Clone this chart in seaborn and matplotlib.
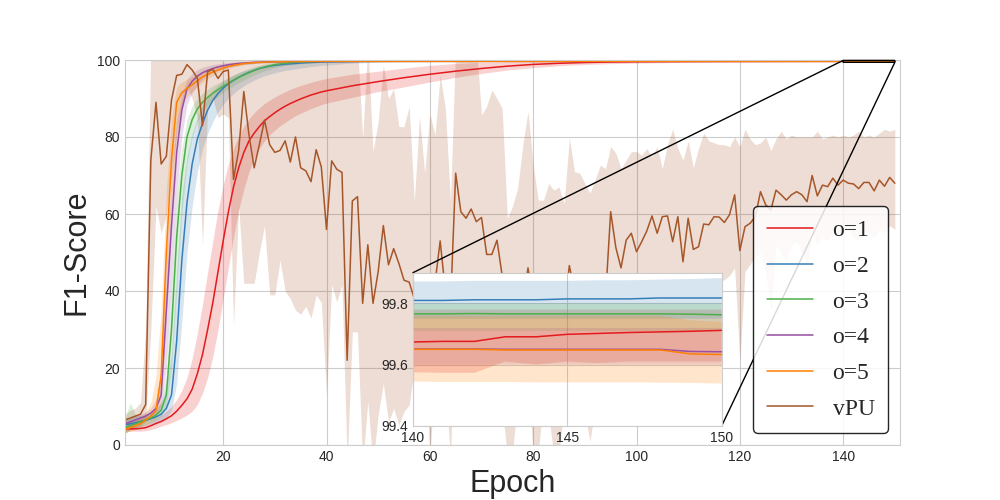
import matplotlib
matplotlib.use("Agg")
import matplotlib.pyplot as plt
import seaborn as sns

epochs = list(range(1, 41)) + list(range(45, 140, 5)) + list(range(140, 151))
vpu_epochs = list(range(1, 151))

o1_mean = [4.2, 4.2, 4.2, 4.3, 4.5, 5.0, 5.6, 6.1, 6.8, 7.6, 8.8, 10.3, 12.0, 14.5, 18.5, 23.5, 30.0, 37.0, 45.0, 53.0,
           60.5, 67.0, 72.0, 76.0, 79.0, 81.0, 82.7, 84.2, 85.3, 86.3, 87.2, 88.0, 88.7, 89.3, 89.9, 90.4, 90.9, 91.3, 91.7, 92.0,
           93.3, 94.4, 95.4, 96.3, 97.1, 97.8, 98.4, 98.85, 99.15, 99.35, 99.47, 99.54, 99.58, 99.61, 99.63, 99.64, 99.65, 99.66, 99.67,
           99.674, 99.676, 99.676, 99.691, 99.691, 99.699, 99.702, 99.705, 99.707, 99.709, 99.712]
o1_low = [3.6, 3.6, 3.6, 3.6, 3.7, 4.0, 4.4, 4.9, 5.3, 5.8, 6.4, 7.0, 7.8, 8.8, 10.5, 13.5, 17.5, 23.0, 30.0, 38.0,
          46.0, 54.0, 61.0, 66.5, 71.0, 74.5, 77.0, 79.0, 80.6, 81.8, 82.9, 83.8, 84.7, 85.5, 86.2, 86.8, 87.4, 87.9, 88.4, 88.8,
          90.3, 91.8, 93.0, 94.3, 95.5, 96.5, 97.4, 98.0, 98.5, 98.85, 99.05, 99.2, 99.3, 99.4, 99.45, 99.5, 99.53, 99.55, 99.56,
          99.575, 99.573, 99.573, 99.61, 99.60, 99.61, 99.605, 99.61, 99.61, 99.61, 99.61]
o1_high = [4.8, 4.8, 4.9, 5.1, 5.5, 6.2, 7.0, 7.8, 8.8, 10.0, 11.8, 14.2, 17.5, 22.5, 29.0, 36.5, 45.0, 53.0, 61.0, 67.5,
           73.0, 77.0, 80.3, 82.8, 84.7, 86.3, 87.6, 88.7, 89.6, 90.4, 91.1, 91.8, 92.4, 92.9, 93.4, 93.8, 94.2, 94.6, 94.9, 95.2,
           96.3, 97.1, 97.9, 98.6, 99.1, 99.4, 99.55, 99.65, 99.7, 99.73, 99.75, 99.76, 99.77, 99.77, 99.77, 99.77, 99.78, 99.78, 99.78,
           99.78, 99.78, 99.78, 99.78, 99.78, 99.78, 99.78, 99.78, 99.78, 99.78, 99.78]

o2_mean = [5.2, 5.5, 5.8, 6.1, 6.4, 6.8, 7.3, 8.0, 9.5, 13.0, 27.0, 48.0, 63.0, 73.0, 79.5, 83.5, 87.0, 89.5, 91.3, 92.7,
           93.8, 94.7, 95.5, 96.2, 96.8, 97.3, 97.8, 98.1, 98.4, 98.6, 98.75, 98.9, 99.0, 99.1, 99.2, 99.3, 99.35, 99.4, 99.45, 99.5,
           99.6, 99.67, 99.72, 99.75, 99.77, 99.78, 99.79, 99.795, 99.8, 99.8, 99.8, 99.8, 99.805, 99.805, 99.805, 99.805, 99.81, 99.81, 99.81,
           99.810, 99.810, 99.812, 99.812, 99.812, 99.815, 99.815, 99.815, 99.818, 99.818, 99.818]
o2_low = [3.8, 4.1, 4.4, 4.7, 5.0, 5.4, 5.8, 6.3, 7.2, 9.0, 16.0, 32.0, 50.0, 62.0, 71.0, 77.0, 81.0, 84.0, 86.5, 88.5,
          90.0, 91.3, 92.4, 93.3, 94.1, 94.8, 95.4, 95.9, 96.3, 96.7, 97.0, 97.3, 97.5, 97.7, 97.9, 98.1, 98.3, 98.45, 98.6, 98.7,
          99.2, 99.4, 99.55, 99.62, 99.67, 99.7, 99.72, 99.73, 99.74, 99.745, 99.75, 99.75, 99.75, 99.75, 99.75, 99.75, 99.75, 99.75, 99.75,
          99.75, 99.75, 99.75, 99.75, 99.75, 99.75, 99.75, 99.75, 99.75, 99.75, 99.75]
o2_high = [6.8, 7.1, 7.4, 7.7, 8.0, 8.5, 9.3, 11.0, 15.0, 24.0, 45.0, 65.0, 75.0, 81.0, 85.0, 88.0, 90.3, 92.0, 93.4, 94.5,
           95.4, 96.1, 96.7, 97.2, 97.6, 98.0, 98.4, 98.7, 98.95, 99.15, 99.3, 99.4, 99.5, 99.55, 99.6, 99.65, 99.7, 99.72, 99.74, 99.76,
           99.8, 99.83, 99.85, 99.86, 99.865, 99.87, 99.87, 99.87, 99.87, 99.87, 99.87, 99.87, 99.87, 99.87, 99.87, 99.87, 99.87, 99.87, 99.87,
           99.872, 99.872, 99.874, 99.874, 99.874, 99.874, 99.876, 99.876, 99.878, 99.880, 99.883]

o3_mean = [4.5, 5.0, 5.5, 6.0, 6.5, 7.0, 7.8, 9.0, 13.0, 30.0, 54.0, 70.0, 80.0, 84.5, 87.3, 89.0, 90.3, 91.4, 92.3, 93.2,
           94.0, 94.8, 95.5, 96.1, 96.7, 97.3, 97.8, 98.2, 98.5, 98.8, 99.0, 99.15, 99.3, 99.4, 99.48, 99.55, 99.6, 99.63, 99.66, 99.68,
           99.71, 99.73, 99.74, 99.75, 99.755, 99.76, 99.76, 99.765, 99.765, 99.765, 99.765, 99.765, 99.765, 99.765, 99.765, 99.765, 99.765, 99.766, 99.766,
           99.766, 99.766, 99.767, 99.766, 99.766, 99.766, 99.766, 99.766, 99.766, 99.765, 99.763]
o3_low = [3.0, 3.8, 4.4, 5.0, 5.5, 6.0, 6.6, 7.5, 10.0, 20.0, 40.0, 60.0, 73.0, 80.0, 84.0, 86.5, 88.2, 89.5, 90.6, 91.6,
          92.5, 93.3, 94.1, 94.8, 95.5, 96.1, 96.7, 97.2, 97.6, 98.0, 98.3, 98.5, 98.7, 98.85, 99.0, 99.1, 99.2, 99.28, 99.35, 99.4,
          99.55, 99.62, 99.66, 99.68, 99.69, 99.7, 99.7, 99.705, 99.705, 99.705, 99.71, 99.71, 99.71, 99.71, 99.71, 99.71, 99.71, 99.71, 99.71,
          99.71, 99.71, 99.71, 99.71, 99.71, 99.71, 99.71, 99.71, 99.71, 99.71, 99.71]
o3_high = [7.0, 11.0, 8.0, 7.5, 7.8, 8.2, 9.3, 11.0, 18.0, 42.0, 65.0, 77.0, 84.5, 88.0, 90.0, 91.3, 92.4, 93.3, 94.0, 94.7,
           95.4, 96.1, 96.7, 97.3, 97.8, 98.3, 98.7, 99.0, 99.25, 99.45, 99.55, 99.62, 99.68, 99.72, 99.75, 99.77, 99.78, 99.79, 99.79, 99.8,
           99.8, 99.8, 99.8, 99.8, 99.8, 99.8, 99.8, 99.8, 99.8, 99.8, 99.8, 99.8, 99.8, 99.8, 99.8, 99.8, 99.8, 99.8, 99.8,
           99.8, 99.8, 99.8, 99.8, 99.8, 99.8, 99.8, 99.8, 99.8, 99.8, 99.8]

o4_mean = [5.5, 6.0, 6.5, 7.0, 7.5, 8.3, 9.5, 13.0, 35.0, 57.0, 76.0, 87.0, 92.5, 94.5, 95.8, 96.7, 97.3, 97.8, 98.2, 98.5,
           98.75, 98.95, 99.1, 99.2, 99.3, 99.38, 99.44, 99.48, 99.52, 99.55, 99.57, 99.59, 99.6, 99.61, 99.62, 99.62, 99.63, 99.63, 99.64, 99.64,
           99.645, 99.65, 99.65, 99.65, 99.65, 99.65, 99.65, 99.65, 99.65, 99.65, 99.65, 99.65, 99.65, 99.65, 99.65, 99.65, 99.65, 99.651, 99.651,
           99.651, 99.651, 99.651, 99.650, 99.650, 99.650, 99.650, 99.650, 99.650, 99.643, 99.642]
o4_low = [4.5, 5.0, 5.5, 6.0, 6.4, 7.0, 7.8, 9.5, 20.0, 42.0, 65.0, 80.0, 88.5, 91.5, 93.5, 95.0, 96.0, 96.7, 97.3, 97.7,
          98.1, 98.4, 98.6, 98.8, 98.95, 99.07, 99.16, 99.24, 99.3, 99.36, 99.4, 99.44, 99.47, 99.5, 99.52, 99.54, 99.55, 99.56, 99.57, 99.58,
          99.6, 99.6, 99.6, 99.6, 99.6, 99.6, 99.6, 99.6, 99.6, 99.6, 99.6, 99.6, 99.6, 99.6, 99.6, 99.6, 99.6, 99.6, 99.6,
          99.6, 99.6, 99.6, 99.6, 99.6, 99.6, 99.6, 99.6, 99.6, 99.6, 99.6]
o4_high = [6.5, 7.0, 7.5, 8.0, 8.6, 9.6, 12.0, 20.0, 50.0, 70.0, 84.0, 91.0, 95.0, 96.5, 97.5, 98.1, 98.5, 98.8, 99.0, 99.2,
           99.35, 99.45, 99.52, 99.58, 99.62, 99.65, 99.67, 99.69, 99.7, 99.71, 99.71, 99.72, 99.72, 99.72, 99.72, 99.72, 99.72, 99.72, 99.72, 99.72,
           99.72, 99.72, 99.72, 99.72, 99.72, 99.72, 99.72, 99.72, 99.72, 99.72, 99.72, 99.72, 99.72, 99.72, 99.72, 99.72, 99.72, 99.72, 99.72,
           99.72, 99.72, 99.72, 99.72, 99.72, 99.72, 99.72, 99.72, 99.72, 99.72, 99.72]

o5_mean = [4.0, 4.5, 5.0, 5.5, 6.5, 7.5, 9.0, 18.0, 50.0, 74.0, 89.0, 91.5, 92.6, 93.6, 94.6, 95.6, 96.3, 96.9, 97.4, 97.9,
           98.3, 98.6, 98.85, 99.05, 99.2, 99.3, 99.38, 99.45, 99.5, 99.53, 99.56, 99.58, 99.6, 99.61, 99.62, 99.63, 99.64, 99.64, 99.645, 99.645,
           99.65, 99.65, 99.65, 99.65, 99.65, 99.65, 99.65, 99.65, 99.65, 99.65, 99.65, 99.65, 99.65, 99.65, 99.65, 99.65, 99.65, 99.65, 99.65,
           99.650, 99.650, 99.650, 99.648, 99.648, 99.648, 99.648, 99.648, 99.648, 99.635, 99.633]
o5_low = [3.2, 3.6, 4.0, 4.5, 5.3, 6.0, 7.0, 11.0, 32.0, 60.0, 82.0, 88.5, 90.5, 91.8, 93.0, 94.2, 95.2, 96.0, 96.7, 97.3,
          97.8, 98.2, 98.5, 98.75, 98.95, 99.1, 99.2, 99.28, 99.34, 99.38, 99.42, 99.45, 99.48, 99.5, 99.51, 99.52, 99.53, 99.535, 99.54, 99.54,
          99.54, 99.54, 99.54, 99.54, 99.54, 99.54, 99.54, 99.54, 99.54, 99.54, 99.54, 99.54, 99.54, 99.54, 99.54, 99.54, 99.54, 99.54, 99.54,
          99.545, 99.543, 99.543, 99.543, 99.542, 99.542, 99.542, 99.542, 99.541, 99.540, 99.538]
o5_high = [5.0, 5.5, 6.2, 7.0, 8.5, 11.0, 18.0, 35.0, 66.0, 85.0, 93.0, 94.3, 95.0, 95.6, 96.3, 97.0, 97.6, 98.1, 98.5, 98.9,
           99.15, 99.35, 99.5, 99.6, 99.66, 99.7, 99.72, 99.74, 99.75, 99.76, 99.76, 99.76, 99.76, 99.76, 99.76, 99.76, 99.76, 99.76, 99.76, 99.76,
           99.76, 99.76, 99.76, 99.76, 99.76, 99.76, 99.76, 99.76, 99.76, 99.76, 99.76, 99.76, 99.76, 99.76, 99.76, 99.76, 99.76, 99.76, 99.76,
           99.76, 99.76, 99.76, 99.76, 99.76, 99.76, 99.76, 99.76, 99.76, 99.745, 99.74]

vpu_mean = [6.5, 7.0, 7.5, 8.0, 10.5, 74.0, 89.0, 73.0, 75.0, 89.6,
            96.0, 96.3, 98.8, 97.4, 95.3, 83.0, 97.0, 97.6, 95.2, 97.0,
            97.4, 69.0, 76.5, 91.8, 80.5, 72.0, 78.0, 84.4, 78.0, 76.0,
            76.5, 79.0, 73.5, 80.0, 72.0, 71.2, 68.4, 76.7, 72.2, 56.0,
            73.8, 71.6, 70.8, 22.0, 63.4, 64.5, 36.8, 52.0, 36.8, 45.0,
            57.0, 46.8, 51.0, 47.2, 42.8, 42.3, 38.0, 35.0, 40.0, 32.0,
            42.0, 53.0, 40.0, 36.0, 70.6, 60.6, 58.9, 61.3, 58.0, 59.1,
            49.5, 49.5, 53.2, 44.0, 38.0, 35.0, 30.0, 37.0, 46.0, 38.0,
            34.0, 40.0, 36.0, 33.0, 38.0, 35.0, 46.6, 40.0, 36.0, 33.0,
            38.0, 35.0, 40.0, 38.0, 60.6, 51.3, 46.0, 53.2, 55.0, 50.2,
            52.8, 55.6, 59.5, 55.0, 59.3, 59.5, 52.8, 59.3, 47.6, 58.9,
            50.8, 51.5, 57.4, 57.2, 59.3, 59.2, 57.8, 59.8, 65.0, 50.5,
            56.7, 57.6, 59.3, 65.8, 62.4, 61.0, 66.2, 65.0, 63.6, 65.0,
            65.8, 65.0, 63.2, 70.0, 64.7, 67.5, 67.1, 69.3, 67.5, 68.8,
            68.0, 67.8, 66.6, 68.2, 68.2, 66.0, 68.8, 67.2, 69.5, 68.0]
vpu_low = [3.0, 4.0, 4.5, 5.0, 6.0, 30.0, 62.0, 55.0, 60.0, 70.0,
           80.0, 88.0, 93.0, 90.0, 85.0, 52.0, 88.0, 90.0, 85.0, 86.0,
           85.0, 31.0, 62.0, 42.0, 42.0, 42.0, 50.0, 57.0, 39.0, 39.0,
           48.0, 40.0, 38.0, 35.0, 34.0, 36.0, 33.0, 39.0, 37.0, 13.0,
           41.6, 37.2, 41.6, -5.0, 29.4, 29.4, -5.0, 11.3, -5.0, 7.8,
           16.0, 6.0, 9.5, 5.2, 8.7, 10.4, 20.0, 15.0, 25.0, -3.0,
           18.0, 30.0, 15.0, -3.0, 40.0, 35.0, 30.0, 32.0, 28.0, 25.0,
           15.0, 18.0, 20.0, 10.0, -3.0, -2.0, 12.0, 15.0, 20.0, -3.0,
           -2.0, 12.0, 8.0, -3.0, -2.0, 10.0, 20.0, 14.0, 10.0, 8.0,
           1.0, 10.0, 15.0, 12.0, 25.0, 20.0, 15.0, 22.0, 28.0, 18.0,
           24.0, 30.0, 26.0, 20.0, 28.0, 32.0, 22.0, 30.0, 18.0, 28.0,
           25.0, 30.0, 34.0, 36.0, 40.0, 42.0, 43.0, 44.0, 46.0, 22.0,
           45.0, 47.0, 49.0, 50.0, 45.0, 35.0, 52.0, 50.0, 48.0, 52.0,
           53.0, 50.0, 47.0, 55.0, 52.0, 54.0, 53.0, 56.0, 55.0, 55.0,
           56.0, 54.0, 53.0, 56.0, 55.0, 54.0, 56.0, 55.0, 57.0, 56.0]
vpu_high = [8.0, 9.0, 9.5, 11.0, 30.0, 104, 104, 104, 104, 104,
            104, 104, 104, 104, 104, 104, 104, 104, 104, 104,
            104, 104, 104, 104, 104, 104, 104, 104, 104, 104,
            104, 104, 104, 104, 104, 104, 104, 104, 104, 104,
            104, 104, 104, 104, 104, 104, 79.6, 104, 76.2, 84.0,
            98.7, 90.0, 92.5, 82.7, 82.7, 88.0, 63.2, 85.3, 70.6, 86.1,
            80.5, 96.1, 87.4, 63.2, 104, 104, 104, 104, 104, 85.7,
            88.0, 92.2, 90.0, 87.4, 58.9, 62.0, 66.7, 78.0, 86.6, 72.7,
            63.6, 63.6, 67.9, 66.2, 67.0, 62.7, 79.8, 71.0, 70.6, 68.0,
            65.4, 69.0, 72.7, 71.8, 77.5, 75.8, 71.8, 74.0, 76.2, 76.2,
            75.3, 77.0, 74.9, 77.5, 71.8, 78.0, 82.0, 77.0, 74.0, 79.0,
            72.0, 77.0, 81.0, 79.0, 78.5, 78.0, 78.0, 77.5, 80.0, 77.5,
            82.0, 79.5, 78.0, 78.5, 80.0, 76.5, 79.5, 81.5, 79.5, 80.5,
            80.0, 80.0, 80.0, 80.0, 81.5, 79.5, 80.0, 80.5, 80.0, 80.5,
            80.0, 80.5, 81.5, 80.0, 80.5, 80.0, 81.0, 82.0, 81.5, 82.0]

labels = ["o=1", "o=2", "o=3", "o=4", "o=5", "vPU"]
colors = ["#e41a1c", "#377eb8", "#4daf4a", "#984ea3", "#ff7f00", "#a65628"]
series = [
    (epochs, o1_mean, o1_low, o1_high),
    (epochs, o2_mean, o2_low, o2_high),
    (epochs, o3_mean, o3_low, o3_high),
    (epochs, o4_mean, o4_low, o4_high),
    (epochs, o5_mean, o5_low, o5_high),
    (vpu_epochs, vpu_mean, vpu_low, vpu_high),
]


def draw_curves(ax, with_labels):
    for (x, mean, low, high), name, c in zip(series, labels, colors):
        ax.fill_between(x, low, high, color=c, alpha=0.2, lw=0)
        sns.lineplot(x=x, y=mean, color=c, lw=1.1, errorbar=None,
                     label=name if with_labels else None, legend=with_labels, ax=ax)


sns.set_style("whitegrid")
plt.rcParams["font.family"] = ["Liberation Sans", "DejaVu Sans"]
plt.rcParams["font.size"] = 10
plt.rcParams["xtick.major.size"] = 0
plt.rcParams["ytick.major.size"] = 0
plt.rcParams["xtick.major.pad"] = 3.5
plt.rcParams["ytick.major.pad"] = 3.5

fig, ax = plt.subplots(figsize=(10, 5), dpi=100)
draw_curves(ax, True)
ax.set_xlim(1, 151)
ax.set_ylim(0, 100)
ax.set_xlabel("Epoch", fontsize=22)
ax.set_ylabel("F1-Score", fontsize=22)
ax.tick_params(labelsize=10)

leg = ax.legend(loc="lower right", prop={"family": "Liberation Serif", "size": 17},
                frameon=True, framealpha=0.85, edgecolor="black", borderpad=0.57,
                handlelength=1.95, handletextpad=0.85, labelspacing=0.6)
leg.get_frame().set_linewidth(1.0)

# zoomed view of the last ten epochs
axins = ax.inset_axes([0.371, 0.05, 0.399, 0.397])
draw_curves(axins, False)
axins.set_xlim(140, 150)
axins.set_ylim(99.4, 99.9)
axins.set_xticks([140, 145, 150])
axins.set_yticks([99.4, 99.6, 99.8])
axins.set_xlabel("")
axins.set_ylabel("")
axins.tick_params(labelsize=10)
ax.indicate_inset_zoom(axins, edgecolor="black", alpha=1.0, lw=1)

fig.savefig("out.png", dpi=100)
